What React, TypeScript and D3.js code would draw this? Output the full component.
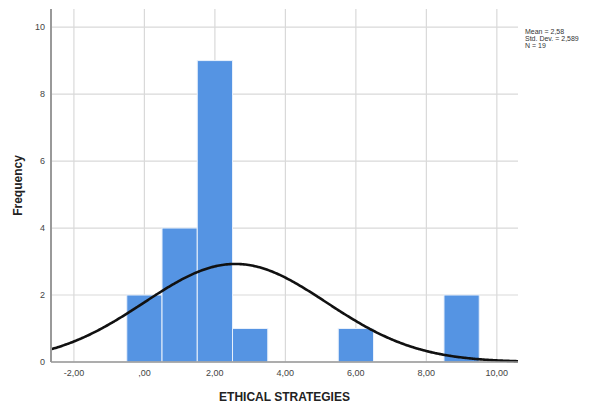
import React from "react";
import * as d3 from "d3";

const binStarts = [-0.5, 0.5, 1.5, 2.5, 5.5, 8.5];
const binCounts = [2, 4, 9, 1, 1, 2];
const binWidth = 1;
const xTicks = [-2, 0, 2, 4, 6, 8, 10];
const xTickLabels = ["-2,00", ",00", "2,00", "4,00", "6,00", "8,00", "10,00"];
const yTicks = [0, 2, 4, 6, 8, 10];
const statLines = ["Mean = 2,58", "Std. Dev. = 2,589", "N = 19"];
const mean = 2.58;
const sd = 2.589;
const n = 19;

export default function App() {
  const W = 591, H = 407;
  const left = 51, right = 518, top = 9, bottom = 362;
  const x = d3.scaleLinear().domain([-2.65, 10.6]).range([left, right]);
  const y = d3.scaleLinear().domain([0, 10.54]).range([bottom, top]);
  const pdf = (v: number) => (n * binWidth) / (sd * Math.sqrt(2 * Math.PI)) * Math.exp(-0.5 * ((v - mean) / sd) ** 2);
  const pts = d3.range(0, 301).map((i) => {
    const v = -2.65 + (i / 300) * (10.6 + 2.65);
    return [v, pdf(v)] as [number, number];
  });
  const line = d3.line<[number, number]>().x((d) => x(d[0])).y((d) => y(d[1])).curve(d3.curveBasis);
  const grid = "#d9d9d9";
  return (
    <svg width={W} height={H} style={{ position: "absolute", left: 0, top: 0, fontFamily: "Liberation Sans, Arial, sans-serif" }}>
      <rect x={0} y={0} width={W} height={H} fill="#fff" />
      {xTicks.map((t) => (
        <line key={"gx" + t} x1={x(t)} x2={x(t)} y1={top} y2={bottom} stroke={grid} strokeWidth={1.2} />
      ))}
      {yTicks.map((t) => (
        <line key={"gy" + t} x1={left} x2={right} y1={y(t)} y2={y(t)} stroke={grid} strokeWidth={1.2} />
      ))}
      {binStarts.map((s, i) => (
        <rect key={"b" + i} x={x(s)} y={y(binCounts[i])} width={x(s + binWidth) - x(s)} height={y(0) - y(binCounts[i])}
          fill="#5594e3" stroke="#e8f0fb" strokeWidth={1} />
      ))}
      <path d={line(pts) || ""} fill="none" stroke="#111" strokeWidth={2.6} />
      <line x1={left} x2={left} y1={top} y2={bottom} stroke="#999" strokeWidth={2} />
      <line x1={left} x2={right} y1={bottom} y2={bottom} stroke="#999" strokeWidth={1.5} />
      {yTicks.map((t) => (
        <text key={"yl" + t} x={left - 6} y={y(t) + 3} fontSize={9} textAnchor="end" fill="#444">{t}</text>
      ))}
      {xTicks.map((t, i) => (
        <text key={"xl" + t} x={x(t)} y={bottom + 14} fontSize={9} textAnchor="middle" fill="#444">{xTickLabels[i]}</text>
      ))}
      <text x={(left + right) / 2} y={401} fontSize={12} fontWeight="bold" textAnchor="middle" fill="#222">ETHICAL STRATEGIES</text>
      <text transform={`translate(22,${(top + bottom) / 2}) rotate(-90)`} fontSize={12} fontWeight="bold" textAnchor="middle" fill="#222">Frequency</text>
      {statLines.map((s, i) => (
        <text key={"s" + i} x={525} y={34 + i * 7.2} fontSize={7} fill="#333">{s}</text>
      ))}
    </svg>
  );
}
